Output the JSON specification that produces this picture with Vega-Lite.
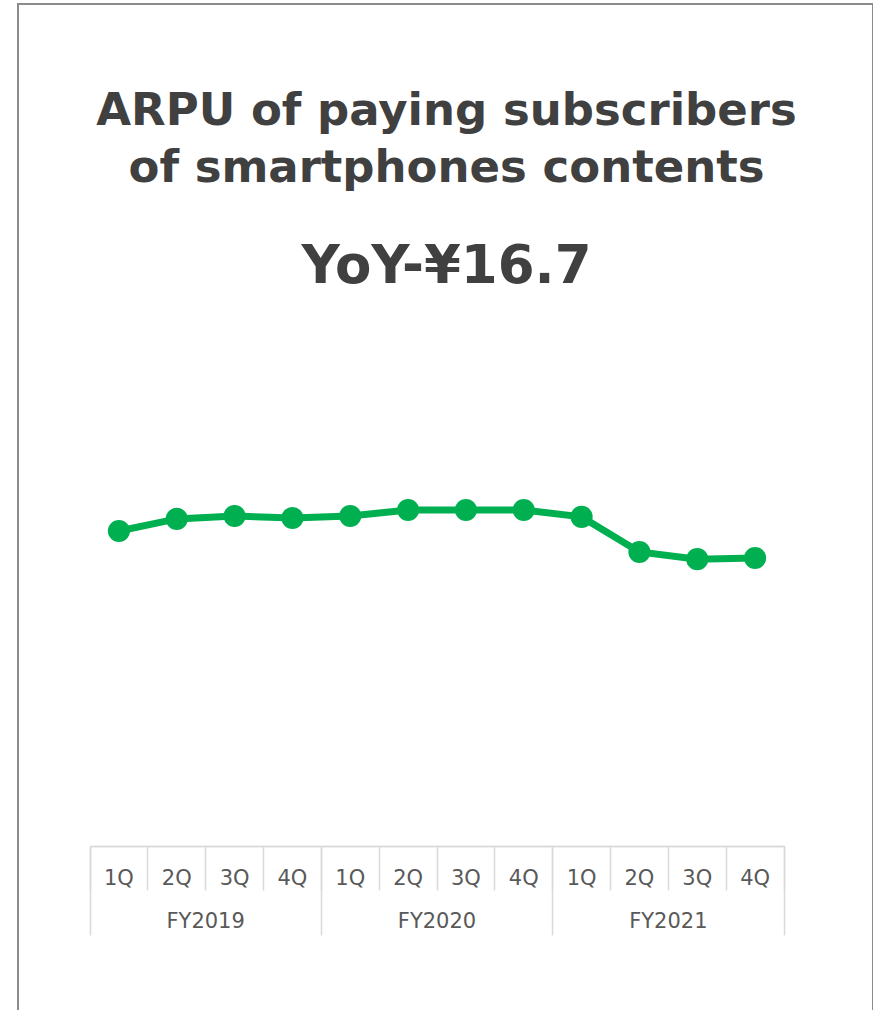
{
  "$schema": "https://vega.github.io/schema/vega-lite/v6.json",
  "autosize": "none",
  "width": 855,
  "height": 1030,
  "padding": {"left": 18, "top": 4, "right": 0, "bottom": 0},
  "background": "white",
  "config": {
    "view": {"stroke": "#8c8c8c", "strokeWidth": 2},
    "title": {
      "font": "DejaVu Sans", "fontWeight": "bold", "fontSize": 45, "color": "#404040",
      "lineHeight": 57, "subtitleFont": "DejaVu Sans", "subtitleFontWeight": "bold",
      "subtitleFontSize": 53, "subtitleColor": "#404040", "subtitlePadding": 50,
      "anchor": "middle", "frame": "group"
    }
  },
  "title": {
    "text": ["ARPU of paying subscribers", "of smartphones contents"],
    "subtitle": "YoY-¥16.7",
    "offset": -290,
    "dx": 1
  },
  "data": {
    "values": [
      {"fy": "FY2019", "key": "FY2019 1Q", "arpu": 109.6},
      {"fy": "FY2019", "key": "FY2019 2Q", "arpu": 113.8},
      {"fy": "FY2019", "key": "FY2019 3Q", "arpu": 114.8},
      {"fy": "FY2019", "key": "FY2019 4Q", "arpu": 114.1},
      {"fy": "FY2020", "key": "FY2020 1Q", "arpu": 114.8},
      {"fy": "FY2020", "key": "FY2020 2Q", "arpu": 116.9},
      {"fy": "FY2020", "key": "FY2020 3Q", "arpu": 116.9},
      {"fy": "FY2020", "key": "FY2020 4Q", "arpu": 116.9},
      {"fy": "FY2021", "key": "FY2021 1Q", "arpu": 114.5},
      {"fy": "FY2021", "key": "FY2021 2Q", "arpu": 102.3},
      {"fy": "FY2021", "key": "FY2021 3Q", "arpu": 99.8},
      {"fy": "FY2021", "key": "FY2021 4Q", "arpu": 100.2}
    ]
  },
  "layer": [
    {
      "mark": {"type": "line", "color": "#00B050", "strokeWidth": 7,
               "point": {"filled": true, "size": 490, "color": "#00B050", "opacity": 1}},
      "encoding": {
        "x": {
          "field": "key", "type": "nominal", "sort": null,
          "scale": {"type": "band", "paddingInner": 0, "paddingOuter": 0, "range": [72, 766]},
          "axis": {
            "orient": "bottom", "offset": -188, "title": null,
            "labelExpr": "split(datum.value, ' ')[1]",
            "domainColor": "#d9d9d9", "domainWidth": 1.5,
            "tickColor": "#d9d9d9", "tickWidth": 1.5, "tickSize": 44,
            "bandPosition": 1, "tickExtra": true,
            "labelAngle": 0, "labelFont": "DejaVu Sans", "labelFontSize": 21,
            "labelColor": "#595959", "labelPadding": -23, "labelBaseline": "top"
          }
        },
        "y": {
          "field": "arpu", "type": "quantitative",
          "scale": {"domain": [0, 183], "range": [842, 316], "zero": false, "nice": false},
          "axis": null
        }
      }
    },
    {
      "mark": {"type": "point", "opacity": 0},
      "encoding": {
        "x": {
          "field": "fy", "type": "nominal",
          "scale": {"type": "band", "paddingInner": 0, "paddingOuter": 0, "range": [72, 766]},
          "axis": {
            "orient": "bottom", "offset": -188, "title": null,
            "domainColor": "#d9d9d9", "domainWidth": 1.5,
            "tickColor": "#d9d9d9", "tickWidth": 1.5, "tickSize": 89,
            "bandPosition": 1, "tickExtra": true,
            "labelAngle": 0, "labelFont": "DejaVu Sans", "labelFontSize": 21,
            "labelColor": "#595959", "labelPadding": -25, "labelBaseline": "top"
          }
        }
      }
    }
  ],
  "resolve": {"scale": {"x": "independent"}, "axis": {"x": "independent"}}
}
